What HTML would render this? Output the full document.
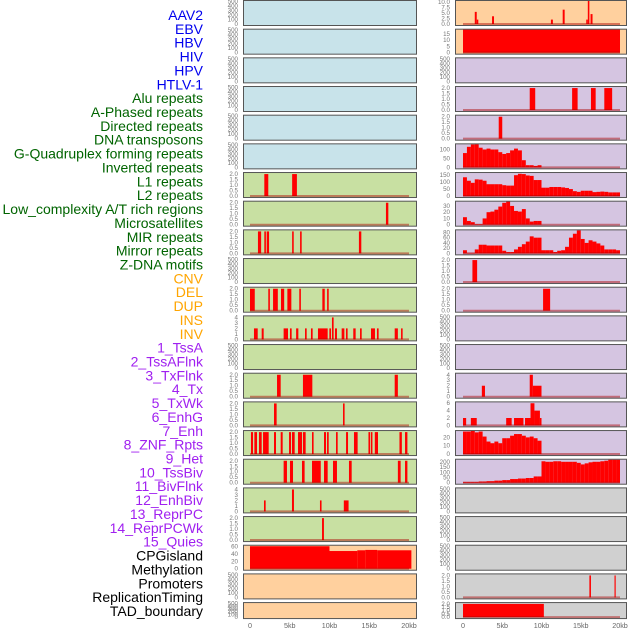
<!DOCTYPE html>
<html><head><meta charset="utf-8"><style>
html,body{margin:0;padding:0;background:#fff;}
svg{display:block;font-family:"Liberation Sans",sans-serif;}
</style></head><body>
<svg id="chart" width="630" height="630" viewBox="0 0 630 630"></svg>
<script>
// ---- labels ----
const featureLabels = ["AAV2","EBV","HBV","HIV","HPV","HTLV-1","Alu repeats","A-Phased repeats","Directed repeats","DNA transposons","G-Quadruplex forming repeats","Inverted repeats","L1 repeats","L2 repeats","Low_complexity A/T rich regions","Microsatellites","MIR repeats","Mirror repeats","Z-DNA motifs","CNV","DEL","DUP","INS","INV","1_TssA","2_TssAFlnk","3_TxFlnk","4_Tx","5_TxWk","6_EnhG","7_Enh","8_ZNF_Rpts","9_Het","10_TssBiv","11_BivFlnk","12_EnhBiv","13_ReprPC","14_ReprPCWk","15_Quies","CPGisland","Methylation","Promoters","ReplicationTiming","TAD_boundary"];
const labelGroups = [6,13,5,15,5];
const groupColors = ["#0000ee","#006400","#ffa500","#a020f0","#000000"];
const xTicks = [0,5,10,15,20];
const xTickLabels = ["0","5kb","10kb","15kb","20kb"];

// ---- left column data (intervals: [startKb, endKb, value]) ----
const L6 = [[1.8,2.3,2],[5.3,5.9,2]];
const L7 = [[17.1,17.4,2]];
const L8 = [[1.0,1.4,2],[1.8,2.0,2],[2.1,2.4,2],[5.3,5.5,2],[6.3,6.5,2],[13.7,14.0,2]];
const L10 = [[0,0.6,2],[2.3,2.5,2],[2.9,3.5,2],[3.9,4.3,2],[4.7,5.2,2],[6.2,6.4,2],[9.1,9.4,2],[9.7,9.9,2]];
const L11 = [[0.5,0.97,2],[1.47,1.72,2],[4.23,4.78,2],[5.03,5.24,2],[5.8,6.08,2],[6.92,7.13,2],[7.67,7.88,2],[8.55,9.77,2],[9.98,10.19,2],[10.31,10.52,4],[10.69,10.94,2],[11.53,11.87,2],[12.07,12.28,2],[12.99,13.29,2],[13.84,14.05,2],[15.22,15.72,2],[15.97,16.18,2],[18.2,18.6,2],[19.0,19.2,2]];
const L13 = [[3.4,3.86,2],[6.66,7.84,2],[18.2,18.6,2]];
const L14 = [[3.02,3.35,2],[11.7,11.9,2]];
const L15 = [[0.12,0.38,2],[0.55,0.88,2],[1.13,1.47,2],[1.64,2.35,2],[3.02,3.27,2],[3.86,4.11,2],[4.91,5.16,2],[5.28,5.62,2],[6.04,6.54,2],[6.66,7.0,2],[7.8,8.0,2],[9.31,9.56,2],[9.69,9.9,2],[10.82,11.03,2],[12.08,12.33,2],[13.08,13.54,2],[14.9,15.1,2],[15.2,15.4,2],[15.7,16.1,2],[18.8,19.1,2],[19.5,19.8,2]];
const L16 = [[4.23,4.65,2],[5.03,5.41,2],[6.54,6.87,2],[7.8,8.9,2],[9.31,9.77,2],[10.44,10.94,2],[12.45,12.79,2],[18.6,18.95,2],[19.5,19.8,2]];
const L17 = [[1.76,1.97,2],[5.28,5.53,4],[8.8,9.0,2],[11.8,12.4,2]];
const L18 = [[9.06,9.3,2]];
const L19 = [[0,10,61],[10,13.5,48],[13.5,14.5,50],[14.5,16,51],[16,20.3,50]];

// ---- right column data ----
const R0 = [[1.5,1.75,5.5],[1.75,1.95,2],[3.7,3.95,3.5],[11.2,11.45,2],[12.7,12.95,6.5],[15.7,15.9,2],[15.9,16.1,10.5],[16.25,16.5,4.5]];
const R1 = [[0,20,20]];
const R3 = [[8.5,9.2,2],[13.9,14.6,2],[16.3,16.9,2],[18.0,19.0,2]];
const R4 = [[4.55,5.0,2]];
const R5bins = [80,115,128,130,110,100,105,100,100,85,75,80,95,105,95,40,12,12,8,12];
const R6bins = [135,110,95,120,118,110,85,85,85,85,78,75,75,150,160,158,148,145,115,115,60,60,65,65,65,62,58,50,35,30,38,38,38,28,30,32,30,26,26,26];
const R7bins = [12,6,4,1,1,10,20,21,24,29,35,38,30,22,21,25,10,5,6,6];
const R8bins = [12,2,2,15,33,33,30,30,30,30,10,5,5,15,25,35,45,65,60,60,12,12,12,5,10,12,25,60,75,88,55,40,50,45,38,30,15,15,15,12];
const R9 = [[1.2,1.8,2]];
const R10 = [[10.2,11.1,2]];
const R13 = [[2.4,2.8,2],[8.5,8.9,4],[8.9,10.0,2]];
const R14 = [[0,0.4,2],[1.0,1.75,2],[5.5,6.2,2],[6.5,7.7,2],[7.9,8.6,2],[8.6,9.1,6],[9.1,9.8,4],[9.8,10.0,2]];
const R15bins = [27,27,28,26,27,21,15,13,15,13,19,19,22,24,24,22,20,21,19,16];
const R16bins = [8,8,8,8,12,12,15,15,20,20,25,25,35,35,40,40,45,45,60,60,205,200,200,205,205,200,200,200,200,190,175,185,195,200,200,205,210,220,220,220];
const R20 = [[16.1,16.3,2],[19.3,19.45,2]];
const R21 = [[0,10.3,2]];

// ---- tick label sets ----
const tEmpty = ["0","100","200","300","400","500"];
const t2 = ["0.0","0.5","1.0","1.5","2.0"];
const t4 = ["0","1","2","3","4"];

function bins(arr){ const o=[]; arr.forEach((v,i)=>o.push([i*0.5,(i+1)*0.5,v])); return o; }

const C = {blue:"#c8e3ea", green:"#c8e0a2", orange:"#ffd09e", purple:"#d5c5e1", grey:"#d0d0d0"};
const leftPanels = [
 [C.blue,null,500,tEmpty],[C.blue,null,500,tEmpty],[C.blue,null,500,tEmpty],[C.blue,null,500,tEmpty],[C.blue,null,500,tEmpty],[C.blue,null,500,tEmpty],
 [C.green,L6,2.05,t2],[C.green,L7,2.05,t2],[C.green,L8,2.05,t2],[C.green,null,500,tEmpty],[C.green,L10,2.05,t2],[C.green,L11,4.1,t4],
 [C.green,null,500,tEmpty],[C.green,L13,2.05,t2],[C.green,L14,2.05,t2],[C.green,L15,2.05,t2],[C.green,L16,2.05,t2],[C.green,L17,4.1,t4],[C.green,L18,2.05,t2],
 [C.orange,L19,61,["0","20","40","60"],[0,20,40,60]],[C.orange,null,500,tEmpty],[C.orange,null,500,tEmpty]
];
const rightPanels = [
 [C.orange,R0,10.2,["0.0","2.5","5.0","7.5","10.0"],[0,2.5,5,7.5,10]],[C.orange,R1,18,["0","5","10","15"],[0,5,10,15]],
 [C.purple,null,500,tEmpty],[C.purple,R3,2.05,t2],[C.purple,R4,2.05,t2],
 [C.purple,bins(R5bins),126,["0","50","100"],[0,50,100]],[C.purple,bins(R6bins),162,["0","50","100","150"],[0,50,100,150]],
 [C.purple,bins(R7bins),36,["0","10","20","30"],[0,10,20,30]],[C.purple,bins(R8bins),86,["0","20","40","60","80"],[0,20,40,60,80]],
 [C.purple,R9,2.05,t2],[C.purple,R10,2.05,t2],[C.purple,null,500,tEmpty],[C.purple,null,500,tEmpty],
 [C.purple,R13,4.1,t4],[C.purple,R14,6.1,["0","2","4","6"],[0,2,4,6]],[C.purple,bins(R15bins),27,["0","10","20"],[0,10,20]],
 [C.purple,bins(R16bins),215,["0","50","100","150","200"],[0,50,100,150,200]],
 [C.grey,null,500,tEmpty],[C.grey,null,500,tEmpty],[C.grey,null,500,tEmpty],[C.grey,R20,2.05,t2],[C.grey,R21,2.05,t2]
];

const NS="http://www.w3.org/2000/svg";
const svg=document.getElementById('chart');
function mk(tag,attrs,parent){const e=document.createElementNS(NS,tag);for(const k in attrs)e.setAttribute(k,attrs[k]);(parent||svg).appendChild(e);return e;}

let li=0;
labelGroups.forEach((n,g)=>{for(let k=0;k<n;k++){
  const t=mk('text',{x:203,y:15+li*13.86+5,'text-anchor':'end','font-size':'14',fill:groupColors[g]});
  
  
  t.textContent=featureLabels[li]; li++; }});

function drawColumn(panels,x0,x1,zeroX,scaleX,tickX,side){
  const xs=kb=>zeroX+kb*scaleX;
  panels.forEach((p,i)=>{
    const top=i*28.67+0.5, h=(i===21?16:25), bot=top+h;
    const [bg,data,dmax,tl,tvIn]=p;
    const g=mk('g',{});
    
    
    const clipId='c'+side+i;
    const cp=mk('clipPath',{id:clipId},g); mk('rect',{x:x0,y:top,width:x1-x0,height:h},cp);
    mk('rect',{x:x0,y:top,width:x1-x0,height:h,fill:bg},g);
    const ys=v=>(bot-1.5)-v/dmax*(h-2.5);
    const inner=mk('g',{'clip-path':'url(#'+clipId+')'},g);
    if(data){
      data.forEach(d=>{
        const r=mk('rect',{x:xs(d[0]),y:ys(d[2]),width:Math.max(0.8,xs(d[1])-xs(d[0])),height:Math.max(0,ys(0)-ys(d[2])),fill:'#ff0000'},inner);
        
        
      });
      const bl=mk('line',{x1:xs(0),x2:xs(20),y1:ys(0),y2:ys(0),stroke:'rgba(170,0,0,0.45)','stroke-width':2},inner);
      
      
    }
    const fr=mk('rect',{x:x0,y:top,width:x1-x0,height:h,fill:'none',stroke:'#555','stroke-width':1},g);
    
    
    const tv=tvIn||tl.map(s=>parseFloat(s));
    tl.forEach((s,k)=>{
      const t=mk('text',{x:tickX,y:ys(tv[k])+2,'text-anchor':'end','font-size':'6.2',fill:'#777'},g);
      
      
      t.textContent=s;
    });
  });
  xTicks.forEach((v,k)=>{
    const t=mk('text',{x:xs(v),y:628,'text-anchor':'middle','font-size':'7.2',fill:'#666'});
    
    
    t.textContent=xTickLabels[k];
  });
}
drawColumn(leftPanels,243.5,416.5,250,7.95,238,'left');
drawColumn(rightPanels,455.5,626.5,463,7.85,450,'right');
</script>
</body></html>
